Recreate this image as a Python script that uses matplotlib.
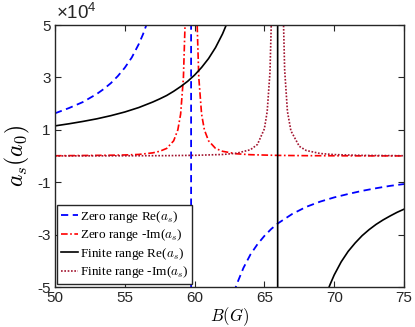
import numpy as np
import matplotlib
matplotlib.use("Agg")
import matplotlib.pyplot as plt

# Data (values in units of 1e4 a0)
B_zr_re = [50, 51, 52, 53, 53.5, 54, 54.5, 55, 55.5, 56, 56.3, 56.6, 56.9, 59.7, 59.8,
           62.8, 63, 63.5, 64, 64.5, 65, 65.5, 66, 67, 68, 69, 70, 71, 72, 73, 74, 75]
zr_re = [1.63, 1.83, 2.06, 2.37, 2.56, 2.78, 3.05, 3.37, 3.76, 4.27, 4.64, 5.08, 5.61, 300, -300,
         -5.25, -4.92, -4.27, -3.76, -3.37, -3.05, -2.78, -2.56, -2.21, -1.94, -1.74, -1.58, -1.45,
         -1.33, -1.23, -1.14, -1.07]

B_fr_re = [50, 51, 52, 53, 54, 55, 56, 57, 57.5, 58, 58.5, 59, 59.5, 60, 60.5, 61, 61.5, 62, 62.3, 62.6,
           65.9, 66.0, 69.5, 69.7, 70, 70.5, 71, 71.5, 72, 72.5, 73, 73.5, 74, 74.5, 75]
fr_re = [1.15, 1.23, 1.32, 1.42, 1.54, 1.68, 1.85, 2.06, 2.18, 2.31, 2.47, 2.65, 2.85, 3.09, 3.38, 3.72,
         4.14, 4.66, 5.04, 5.49, 300, -300, -5.18, -4.91, -4.54, -4.04, -3.64, -3.32, -3.04, -2.81,
         -2.61, -2.44, -2.29, -2.15, -2.03]

B_zr_im = [50, 52, 54, 55, 56, 57, 57.5, 58, 58.5, 58.8, 59.0, 59.2, 59.35, 59.5, 59.75, 60.0, 60.15, 60.3,
           60.5, 60.7, 61, 61.5, 62, 63, 64, 66, 68, 70, 72, 75]
zr_im = [0.01, 0.02, 0.03, 0.04, 0.06, 0.12, 0.18, 0.29, 0.58, 1.0, 1.6, 3.0, 5.6, 14, 80, 14, 5.6, 3.0,
         1.6, 1.0, 0.58, 0.29, 0.18, 0.085, 0.05, 0.023, 0.013, 0.009, 0.006, 0.004]

B_fr_im = [50, 55, 58, 60, 62, 63, 64, 64.5, 65, 65.2, 65.4, 65.55, 65.7, 65.93, 66.15, 66.3, 66.45, 66.65,
           66.9, 67.5, 68, 69, 70, 72, 75]
fr_im = [0.004, 0.008, 0.014, 0.026, 0.058, 0.105, 0.24, 0.44, 1.04, 1.7, 3.2, 6.2, 17, 80, 17, 6.6, 3.3,
         1.7, 0.96, 0.37, 0.21, 0.095, 0.054, 0.024, 0.011]

x_ticks = [50, 55, 60, 65, 70, 75]
y_ticks = [-5, -3, -1, 1, 3, 5]
labels = [r"Zero range Re($a_s$)", r"Zero range -Im($a_s$)", r"Finite range Re($a_s$)",
          r"Finite range -Im($a_s$)"]

plt.rcParams['mathtext.fontset'] = 'cm'
plt.rcParams['font.family'] = ['Liberation Sans', 'DejaVu Sans']

fig = plt.figure(figsize=(4.15, 3.27), dpi=100)
ax = fig.add_axes([0.1325, 0.1223, 0.841, 0.8012])

sc = 1e4
ax.plot(B_zr_re, np.array(zr_re) * sc, color='#0000FF', ls=(0, (4, 2.5)), lw=1.3, label=labels[0])
ax.plot(B_zr_im, np.array(zr_im) * sc, color='#FF0000', ls=(0, (4, 1.5, 1, 1.5)), lw=1.2, label=labels[1])
ax.plot(B_fr_re, np.array(fr_re) * sc, color='black', ls='-', lw=1.2, label=labels[2])
ax.plot(B_fr_im, np.array(fr_im) * sc, color='#A2142F', ls=(0, (1, 1)), lw=1.2, label=labels[3])

ax.set_xlim(50, 75)
ax.set_ylim(-5e4, 5e4)
ax.set_xticks(x_ticks)
ax.set_yticks([v * sc for v in y_ticks])
ax.set_yticklabels([str(v) for v in y_ticks])
ax.tick_params(direction='in', top=True, right=True, labelsize=11, length=4, width=0.8, colors='#262626',
               pad=3)
for s in ax.spines.values():
    s.set_color('#262626')
    s.set_linewidth(1.0)

ax.text(0.002, 1.006, r"×$\mathregular{10^4}$", transform=ax.transAxes, fontsize=13.5, ha='left',
        va='bottom', color='#262626')

ax.set_xlabel(r"$B(G)$", fontsize=12, labelpad=0)
ax.set_ylabel(r"$a_s(a_0)$", fontsize=17, labelpad=4)

leg = ax.legend(loc='lower left', bbox_to_anchor=(0.005, 0.01),
                prop={'family': 'Liberation Serif', 'size': 9.5},
                frameon=True, fancybox=False, handlelength=1.3, handletextpad=0.15, borderpad=0.3,
                labelspacing=0.2, borderaxespad=0.0)
leg.get_frame().set_edgecolor('#262626')
leg.get_frame().set_linewidth(1.0)
leg.get_frame().set_alpha(1)

fig.savefig("out.png", dpi=100)
